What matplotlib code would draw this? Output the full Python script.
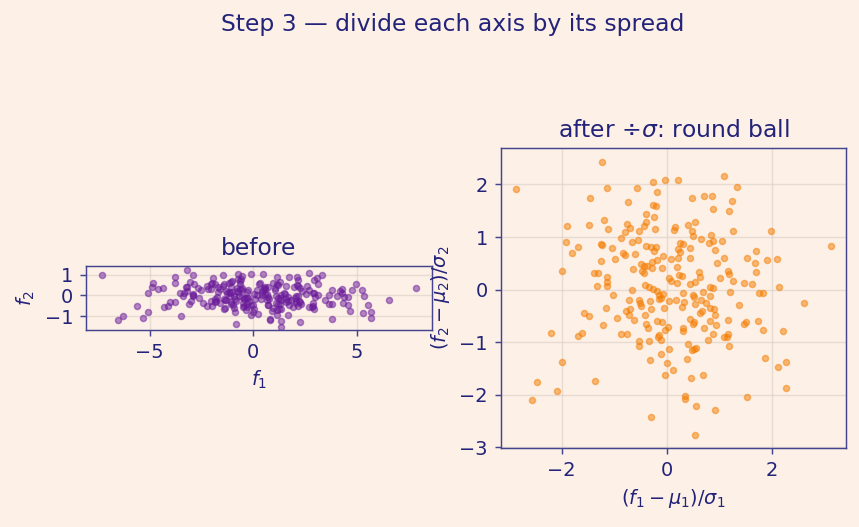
import matplotlib
matplotlib.use("Agg")
import matplotlib.pyplot as plt
import numpy as np

z1 = [
    -1.238, -2.863, -0.273, -0.03, -1.13, -0.56, -0.197, -1.892, -1.911, -1.70, -1.797, -1.994,
    0.203, 1.079, 1.327, 1.975, 3.117, 1.898, 2.10, 2.127, 1.822,
    -2.203, -1.987, -2.463, -2.083, -2.559, -0.311, -1.689, -1.606, -1.568,
    2.603, 2.203, 1.86, 2.12, 2.26, 2.26, 0.54, 0.908, 1.822,
    -1.467, -0.749, -0.267, -0.216, -0.394, -0.241, -1.187, -1.479, -1.111, -0.768, -0.705,
    -0.406, -0.444, -0.54, -0.794, -0.235, -0.87, -0.66, -0.559, -1.263, -1.238, -1.035,
    -0.406, -0.298, -0.203, -0.241, -0.083, -0.844, -0.794, -0.616, -0.978, -1.251,
    -0.495, -0.444, -0.387, -0.286, -0.19, -0.654, -0.279, -0.095, 0.083,
    0.47, 0.698, 0.851, 1.232, 0.87, 1.175, 0.394, 0.527, 0.146, 0.127, 0.47, 0.489,
    1.251, 0.641, 0.844, 0.794, 0.87, 1.041, 0.908, 0.432, 0.248, 0.305, 0.216, 0.248,
    0.203, 0.432, 1.079, 0.952, 1.518, 1.67, 1.702, 0.19,
    -1.384, -1.308, -0.476, -0.432, -1.13, -1.13, -1.13, -1.321, -1.016, -1.479,
    -0.667, -0.425, -0.343, -0.26, -0.19, -0.146, -0.108, -0.076, -0.159, 0.032, 0.083,
    0.044, -0.717, -0.54, -0.514, -0.33, -1.162, -0.781, -0.698, -0.495, -0.305, -0.063,
    -0.717, -0.622, -0.94, -0.413, -0.184, -0.095, -0.406, -0.362, -1.206, -0.032, 0.013,
    -0.87, -0.762, -0.159,
    0.235, 0.286, 0.19, 0.444, 0.54, 0.603, 0.622, 1.016, 1.156, 1.175, 1.251, 1.46,
    1.613, 1.702, 0.298, 0.489, 0.521, 0.679, 0.825, 0.876, 0.813, 1.194, 0.165, 0.317,
    0.286, 0.54, 0.648, 0.743, 0.825, 0.889, 0.908, 0.673, 0.635, 0.444, 0.489, 0.521,
    0.698, 0.825, 0.933, 1.378, 1.156, 1.46, 1.511, 1.733, 0.298, 0.298, 0.876, 1.156, 1.746,
    -0.527, -0.54, -0.349, -0.171, -0.108, 0.032, -0.114, -0.33, 0.006, 0.108, -0.032, -1.359,
    0.394, 0.775, 0.508, 0.552, 0.476, 1.079, 1.143, 1.175, 0.381, 0.467, 0.679, 0.337,
    0.337, 0.546, 1.517,
]
z2 = [
    2.42, 1.91, 2.05, 2.08, 1.93, 1.93, 1.855, 1.214, 0.912, 0.818, 0.704, 0.352,
    2.08, 2.164, 1.95, 1.107, 0.824, 0.56, 0.579, 0.05, -0.069,
    -0.824, -1.384, -1.761, -1.931, -2.10, -2.421, -0.881, -0.830, -0.447,
    -0.258, -0.786, -1.296, -1.465, -1.384, -1.874, -2.761, -2.289, -0.761,
    1.736, 1.673, 1.616, 1.597, 1.44, 1.384, 1.327, 1.22, 1.151, 1.245, 1.176,
    1.283, 1.208, 1.113, 1.094, 1.151, 0.987, 0.906, 0.943, 0.874, 0.855, 0.792,
    0.83, 0.811, 0.811, 0.73, 0.635, 0.704, 0.667, 0.686, 0.579, 0.535,
    0.484, 0.447, 0.447, 0.528, 0.566, 0.396, 0.415, 0.415, 0.591,
    1.736, 1.774, 1.774, 1.686, 1.535, 1.497, 1.22, 1.283, 1.189, 1.126, 1.107, 1.025,
    1.107, 0.956, 1.031, 0.887, 0.918, 0.918, 0.761, 0.792, 0.887, 0.862, 0.767, 0.717,
    0.604, 0.604, 0.604, 0.497, 0.604, 0.497, 0.73, 0.434,
    0.314, 0.314, 0.346, 0.314, 0.233, 0.145, 0.063, 0.063, -0.094, -0.503,
    -0.013, 0.082, 0.044, 0.019, -0.031, -0.094, -0.157, -0.082, -0.17, 0.22, 0.157,
    -0.22, -0.201, -0.201, -0.258, -0.22, -0.346, -0.409, -0.377, -0.314, -0.365, -0.358,
    -0.484, -0.572, -0.535, -0.478, -0.604, -0.616, -0.648, -0.723, -0.673, -0.761, -0.711,
    -0.849, -0.849, -0.868,
    0.27, 0.252, 0.126, 0.107, 0.145, 0.333, 0.233, 0.22, 0.346, 0.296, 0.17, 0.119,
    0.107, 0.327, -0.063, -0.094, -0.145, -0.044, 0.05, 0.031, -0.126, -0.044, -0.201, -0.239,
    -0.327, -0.283, -0.189, -0.252, -0.358, -0.377, -0.491, -0.409, -0.453, -0.566, -0.66, -0.616,
    -0.736, -0.597, -0.673, -0.296, -0.585, -0.648, -0.616, -0.597, -0.723, -0.786, -0.836, -0.849, -0.063,
    -0.987, -1.075, -0.987, -0.906, -0.95, -1.126, -1.22, -1.333, -1.39, -1.522, -1.616, -1.742,
    -1.031, -0.95, -1.126, -1.113, -1.157, -0.906, -0.906, -1.082, -1.314, -1.673, -1.616, -2.019,
    -2.082, -2.214, -2.044,
]

mu1, sd1 = -0.04, 2.535
mu2, sd2 = -0.064, 0.539

z1 = np.array(z1)
z2 = np.array(z2)
f1 = mu1 + sd1 * z1
f2 = mu2 + sd2 * z2

BG = "#fdf1e7"
INK = "#23237a"
EDGE = "#45458f"
PURPLE = "#6a1b9a"
ORANGE = "#f57c00"

plt.rcParams.update({
    "font.size": 10.6,
    "text.color": INK, "axes.labelcolor": INK,
    "xtick.color": EDGE, "ytick.color": EDGE,
    "xtick.labelcolor": INK, "ytick.labelcolor": INK,
    "axes.edgecolor": EDGE,
})

fig = plt.figure(figsize=(859 / 132, 527 / 132), dpi=132, facecolor=BG)
ax1 = fig.add_axes([0.100, 0.1485, 0.403, 0.573])
ax2 = fig.add_axes([0.583, 0.1485, 0.402, 0.573])

for ax in (ax1, ax2):
    ax.set_facecolor(BG)
    ax.grid(True, color="#d9cdc4", lw=0.8, alpha=0.6)
    ax.set_axisbelow(True)

ax1.scatter(f1, f2, s=11, color=PURPLE, alpha=0.5, linewidths=0.8)
ax1.set_xlim(-8.08, 8.65)
ax1.set_ylim(-1.66, 1.43)
ax1.set_aspect("equal")
ax1.set_title("before", fontsize=12.8)
ax1.set_xlabel("$f_1$")
ax1.set_ylabel("$f_2$")

ax2.scatter(z1, z2, s=11, color=ORANGE, alpha=0.5, linewidths=0.8)
ax2.set_xlim(-3.16, 3.41)
ax2.set_ylim(-3.01, 2.70)
ax2.set_aspect("equal")
ax2.set_title(r"after $\div\sigma$: round ball", fontsize=12.8)
ax2.set_xlabel(r"$(f_1-\mu_1)/\sigma_1$")
ax2.set_ylabel(r"$(f_2-\mu_2)/\sigma_2$")

fig.suptitle("Step 3 — divide each axis by its spread", fontsize=12.8, color=INK,
             x=0.527, y=0.975)

fig.savefig("out.png", dpi=132, facecolor=BG)
plt.close(fig)
